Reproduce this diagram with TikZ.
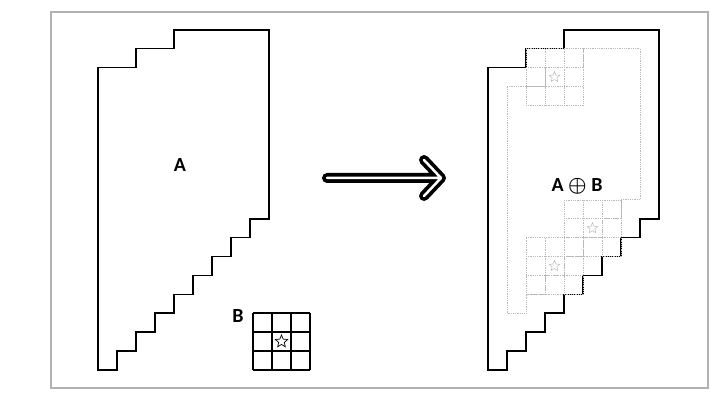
\documentclass[tikz,border=0pt]{standalone}
\usepackage{amsmath}
\usepackage{fontspec}
\setsansfont{Carlito}
\usepackage{tikz}
\usetikzlibrary{shapes.geometric}

\begin{document}
\begin{tikzpicture}[
    x=1pt, y=1pt,
    outline/.style={line width=1.6pt, line join=miter},
    shadow/.style={gray!55, densely dotted, line width=0.8pt},
    lbl/.style={font=\sffamily\bfseries\fontsize{20}{24}\selectfont, inner sep=0pt},
    kern/.style={star, star points=5, star point ratio=2.2, draw, minimum size=#1, inner sep=0pt}
  ]
  \useasboundingbox (0,0) rectangle (728,406);
  \draw[gray!60, line width=1.3pt] (51,18) rectangle (708,394);

  % the set A, and A dilated by B (same outline)
  \foreach \ox/\nm in {98/left, 488/right} {
    \begin{scope}[shift={(\ox pt,36pt)}, x=19pt, y=18.9pt]
      \draw[outline] (0,0) -- (0,16) -- (2,16) -- (2,17) -- (4,17) -- (4,18)
        -- (9,18) -- (9,8) -- (8,8) -- (8,7) -- (7,7) -- (7,6) -- (6,6)
        -- (6,5) -- (5,5) -- (5,4) -- (4,4) -- (4,3) -- (3,3) -- (3,2)
        -- (2,2) -- (2,1) -- (1,1) -- (1,0) -- cycle;
    \end{scope}
  }

  % copies of B and the original A inside the result
  \begin{scope}[shift={(488pt,36pt)}, x=19pt, y=18.9pt]
    \draw[shadow] (1,3) -- (1,15) -- (3,15) -- (3,16) -- (5,16) -- (5,17)
      -- (8,17) -- (8,9) -- (7,9) -- (7,8) -- (6,8) -- (6,7) -- (5,7)
      -- (5,6) -- (4,6) -- (4,5) -- (3,5) -- (3,4) -- (2,4) -- (2,3) -- cycle;
    \foreach \bx/\by in {2/14, 2/4, 4/6} {
      \draw[shadow, step=1] (\bx,\by) grid (\bx+3,\by+3);
      \node[kern=11pt, gray!55, line width=0.5pt] at (\bx+1.5,\by+1.5) {};
    }
  \end{scope}

  % structuring element B
  \begin{scope}[shift={(253pt,36pt)}, x=19pt, y=19pt]
    \draw[line width=1.4pt, step=1] (0,0) grid (3,3);
    \node[kern=13pt, line width=0.7pt] (origin) at (1.5,1.5) {};
  \end{scope}

  \node[lbl] (setA) at (180,241) {A};
  \node[lbl] (setB) at (238,90) {B};
  \node[lbl] (sum) at (577,220) {A $\boldsymbol{\oplus}$ B};

  \coordinate (arrL) at (327,228);
  \coordinate (arrR) at (441,228);
  \draw[line width=10pt, line cap=round, line join=round]
    (arrL) -- (arrR) ++(-17,18) -- (arrR) -- ++(-17,-18);
  \draw[white, line width=2.5pt, line cap=round, line join=round]
    (arrL) -- (arrR) ++(-17,18) -- (arrR) -- ++(-17,-18);
\end{tikzpicture}
\end{document}
